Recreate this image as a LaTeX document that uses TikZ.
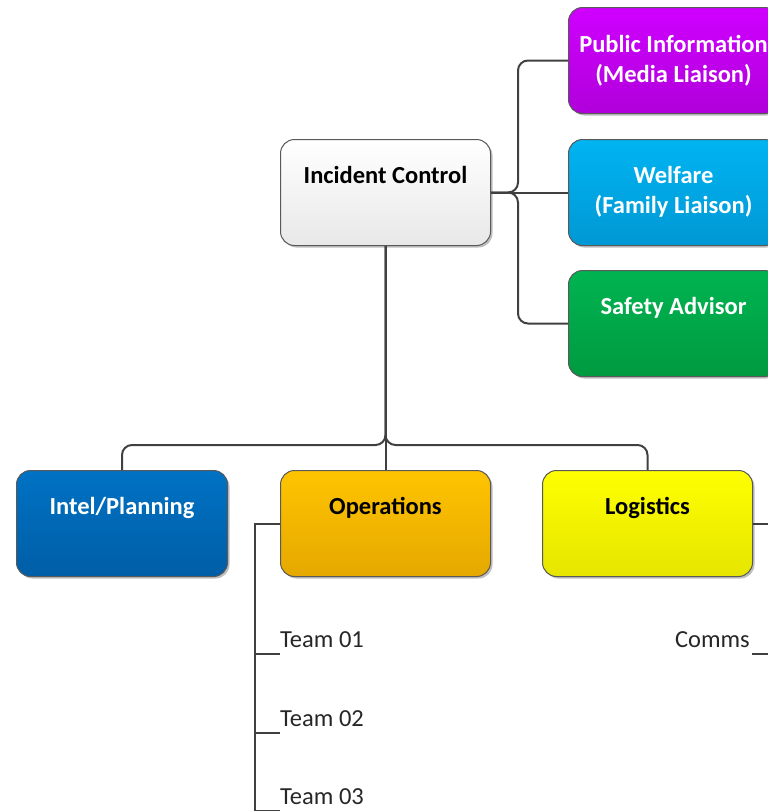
\documentclass[tikz,border=0pt]{standalone}
\usepackage{fontspec}
\setmainfont{Carlito}
\usetikzlibrary{shadows,calc}

\definecolor{boxline}{HTML}{595959}
\definecolor{connline}{HTML}{404040}
\definecolor{icTop}{HTML}{FFFFFF}
\definecolor{icBot}{HTML}{E8E8E8}
\definecolor{piTop}{HTML}{CF00FF}
\definecolor{piBot}{HTML}{B000DA}
\definecolor{wfTop}{HTML}{00B4F2}
\definecolor{wfBot}{HTML}{0098D4}
\definecolor{saTop}{HTML}{00B451}
\definecolor{saBot}{HTML}{009A40}
\definecolor{inTop}{HTML}{0072C4}
\definecolor{inBot}{HTML}{005EA6}
\definecolor{opTop}{HTML}{FFC400}
\definecolor{opBot}{HTML}{E5A800}
\definecolor{lgTop}{HTML}{FFFF00}
\definecolor{lgBot}{HTML}{E5E500}

\begin{document}
\begin{tikzpicture}[x=1pt,y=-1pt,
  box/.style={draw=boxline, line width=1pt, rounded corners=14pt,
    minimum width=210pt, minimum height=106pt, inner sep=0pt, anchor=north west,
    drop shadow={shadow xshift=2pt, shadow yshift=-2pt, opacity=0.25, fill=black}},
  lbl/.style={font=\bfseries\fontsize{24.5}{30}\selectfont, align=center,
    anchor=base, inner sep=0pt},
  lblw/.style={lbl, text=white},
  conn/.style={draw=connline, line width=2pt},
  team/.style={font=\fontsize{24.5}{30}\selectfont, inner sep=0pt, text=black!85}]

\useasboundingbox (0,0) rectangle (768,811);

% --- boxes ---
\node[box, top color=icTop, bottom color=icBot] (ic) at (280,139) {};
\node[box, top color=piTop, bottom color=piBot] (pi) at (568,7) {};
\node[box, top color=wfTop, bottom color=wfBot] (wf) at (568,139) {};
\node[box, top color=saTop, bottom color=saBot] (sa) at (568,270) {};
\node[box, minimum width=211pt, top color=inTop, bottom color=inBot] (intel) at (16,470) {};
\node[box, top color=opTop, bottom color=opBot] (ops) at (280,470) {};
\node[box, top color=lgTop, bottom color=lgBot] (log) at (542,470) {};

% --- box captions ---
\node[lbl] (ic-t) at ([yshift=-44pt]ic.north) {Incident Control};
\node[lblw] (pi-t1) at ([yshift=-45pt]pi.north) {Public Information};
\node[lblw] (pi-t2) at ([yshift=-75pt]pi.north) {(Media Liaison)};
\node[lblw] (wf-t1) at ([yshift=-44pt]wf.north) {Welfare};
\node[lblw] (wf-t2) at ([yshift=-74pt]wf.north) {(Family Liaison)};
\node[lblw] (sa-t) at ([yshift=-44pt]sa.north) {Safety Advisor};
\node[lblw] (intel-t) at ([yshift=-44pt]intel.north) {Intel/Planning};
\node[lbl] (ops-t) at ([yshift=-44pt]ops.north) {Operations};
\node[lbl] (log-t) at ([yshift=-44pt]log.north) {Logistics};

% --- connectors from Incident Control ---
\draw[conn, rounded corners=10pt] (ic.east) -- ++(27,0) |- (pi.west);
\draw[conn, rounded corners=10pt] (ic.east) -- ++(27,0) |- (sa.west);
\draw[conn] (ic.east) -- (wf.west);
\draw[conn, rounded corners=10pt] (ic.south) -- ++(0,199) -| (intel.north);
\draw[conn, rounded corners=10pt] (ic.south) -- ++(0,199) -| (log.north);
\draw[conn] (ic.south) -- (ops.north);

% --- Operations teams ---
\draw[conn] (ops.west) -- ++(-25,0) coordinate (opsbus) -- ++(0,320);
\coordinate (t1) at (280,654);
\coordinate (t2) at (280,733);
\coordinate (t3) at (280,811);
\draw[conn] (t1 -| opsbus) -- (t1);
\draw[conn] (t2 -| opsbus) -- (t2);
\draw[conn] (t3 -| opsbus) -- (t3);
\node[team, anchor=base west] (team1) at ([yshift=7pt]t1) {Team 01};
\node[team, anchor=base west] (team2) at ([yshift=7pt]t2) {Team 02};
\node[team, anchor=base west] (team3) at ([yshift=7pt]t3) {Team 03};

% --- Logistics branch ---
\draw[conn] (log.east) -- ++(30,0) coordinate (logbus) -- ++(0,320);
\coordinate (c1) at (752,654);
\draw[conn] (logbus |- c1) -- (c1);
\node[team, anchor=base east] (comms) at ([xshift=-2pt,yshift=7pt]c1) {Comms};

\end{tikzpicture}
\end{document}
